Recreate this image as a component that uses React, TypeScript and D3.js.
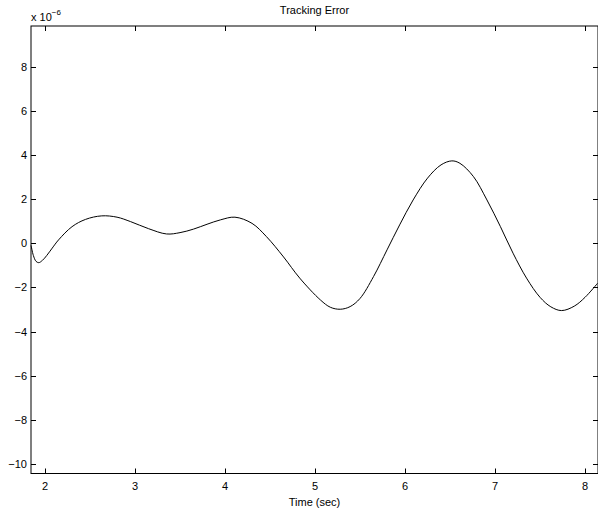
import React, { useEffect, useRef } from "react";
import * as d3 from "d3";

// time (sec) and tracking error (x 1e-6)
const time = [
  1.845, 1.87, 1.9, 1.93, 1.97, 2.02, 2.08, 2.15, 2.3, 2.45, 2.63, 2.8, 2.95,
  3.15, 3.35, 3.5, 3.65, 3.8, 3.95, 4.11, 4.3, 4.46, 4.65, 4.83, 5.06, 5.17,
  5.28, 5.39, 5.5, 5.65, 5.8, 5.94, 6.09, 6.25, 6.4, 6.52, 6.61, 6.76, 6.91,
  7.06, 7.2, 7.35, 7.5, 7.62, 7.74, 7.88, 8.0, 8.14,
];
const errorVals = [
  -0.1, -0.55, -0.82, -0.88, -0.78, -0.55, -0.22, 0.15, 0.75, 1.08, 1.24,
  1.18, 0.98, 0.66, 0.42, 0.48, 0.64, 0.86, 1.06, 1.18, 0.9, 0.3, -0.62, -1.58,
  -2.57, -2.9, -2.99, -2.87, -2.5, -1.51, -0.3, 0.83, 1.96, 2.95, 3.55, 3.73,
  3.62, 3.02, 1.96, 0.75, -0.45, -1.58, -2.45, -2.88, -3.05, -2.85, -2.45,
  -1.81,
];
const xTicks = [2, 3, 4, 5, 6, 7, 8];
const yTicks = [-10, -8, -6, -4, -2, 0, 2, 4, 6, 8];

const W = 598;
const H = 510;
const box = { left: 31, top: 26, right: 598, bottom: 473.5 };
const font = "'Liberation Sans', Arial, Helvetica, sans-serif";

export default function App() {
  const svgRef = useRef<SVGSVGElement>(null);

  useEffect(() => {
    const svg = d3.select(svgRef.current);
    svg.selectAll("*").remove();

    const x = d3.scaleLinear().domain([1.844, 8.144]).range([box.left, box.right]);
    const y = d3.scaleLinear().domain([-10.43, 9.84]).range([box.bottom, box.top]);
    const fmt = (d: number) => String(d).replace("-", "\u2212");

    // curve
    const pts = time.map((t, i) => [t, errorVals[i]] as [number, number]);
    const line = d3
      .line<[number, number]>()
      .x((d) => x(d[0]))
      .y((d) => y(d[1]))
      .curve(d3.curveCatmullRom.alpha(0.5));
    svg
      .append("path")
      .attr("d", line(pts))
      .attr("fill", "none")
      .attr("stroke", "#000")
      .attr("stroke-width", 1);

    // box
    svg
      .append("rect")
      .attr("x", box.left)
      .attr("y", box.top)
      .attr("width", box.right - box.left)
      .attr("height", box.bottom - box.top)
      .attr("fill", "none")
      .attr("stroke", "#000")
      .attr("stroke-width", 1);

    const tl = 5;
    const g = svg.append("g").attr("stroke", "#000").attr("stroke-width", 1);
    xTicks.forEach((t) => {
      const px = Math.round(x(t)) + 0.5;
      g.append("line").attr("x1", px).attr("x2", px).attr("y1", box.bottom).attr("y2", box.bottom - tl);
      g.append("line").attr("x1", px).attr("x2", px).attr("y1", box.top).attr("y2", box.top + tl);
    });
    yTicks.forEach((t) => {
      const py = Math.round(y(t)) + 0.5;
      g.append("line").attr("x1", box.left).attr("x2", box.left + tl).attr("y1", py).attr("y2", py);
      g.append("line").attr("x1", box.right).attr("x2", box.right - tl).attr("y1", py).attr("y2", py);
    });

    const txt = svg.append("g").attr("font-family", font).attr("font-size", 11).attr("fill", "#000");
    xTicks.forEach((t) => {
      txt.append("text").attr("x", x(t)).attr("y", 490).attr("text-anchor", "middle").text(fmt(t));
    });
    yTicks.forEach((t) => {
      txt
        .append("text")
        .attr("x", box.left - 4)
        .attr("y", y(t) + 4)
        .attr("text-anchor", "end")
        .text(fmt(t));
    });

    txt
      .append("text")
      .attr("x", (box.left + box.right) / 2)
      .attr("y", 506)
      .attr("text-anchor", "middle")
      .text("Time (sec)");
    txt
      .append("text")
      .attr("x", (box.left + box.right) / 2)
      .attr("y", 14)
      .attr("text-anchor", "middle")
      .text("Tracking Error");

    const mult = txt.append("text").attr("x", 31).attr("y", 21);
    mult.append("tspan").text("x 10");
    mult.append("tspan").attr("font-size", 8).attr("dy", -6).text("\u22126");
  }, []);

  return (
    <svg
      ref={svgRef}
      width={W}
      height={H}
      style={{ position: "absolute", left: 0, top: 0, background: "#fff" }}
    />
  );
}
